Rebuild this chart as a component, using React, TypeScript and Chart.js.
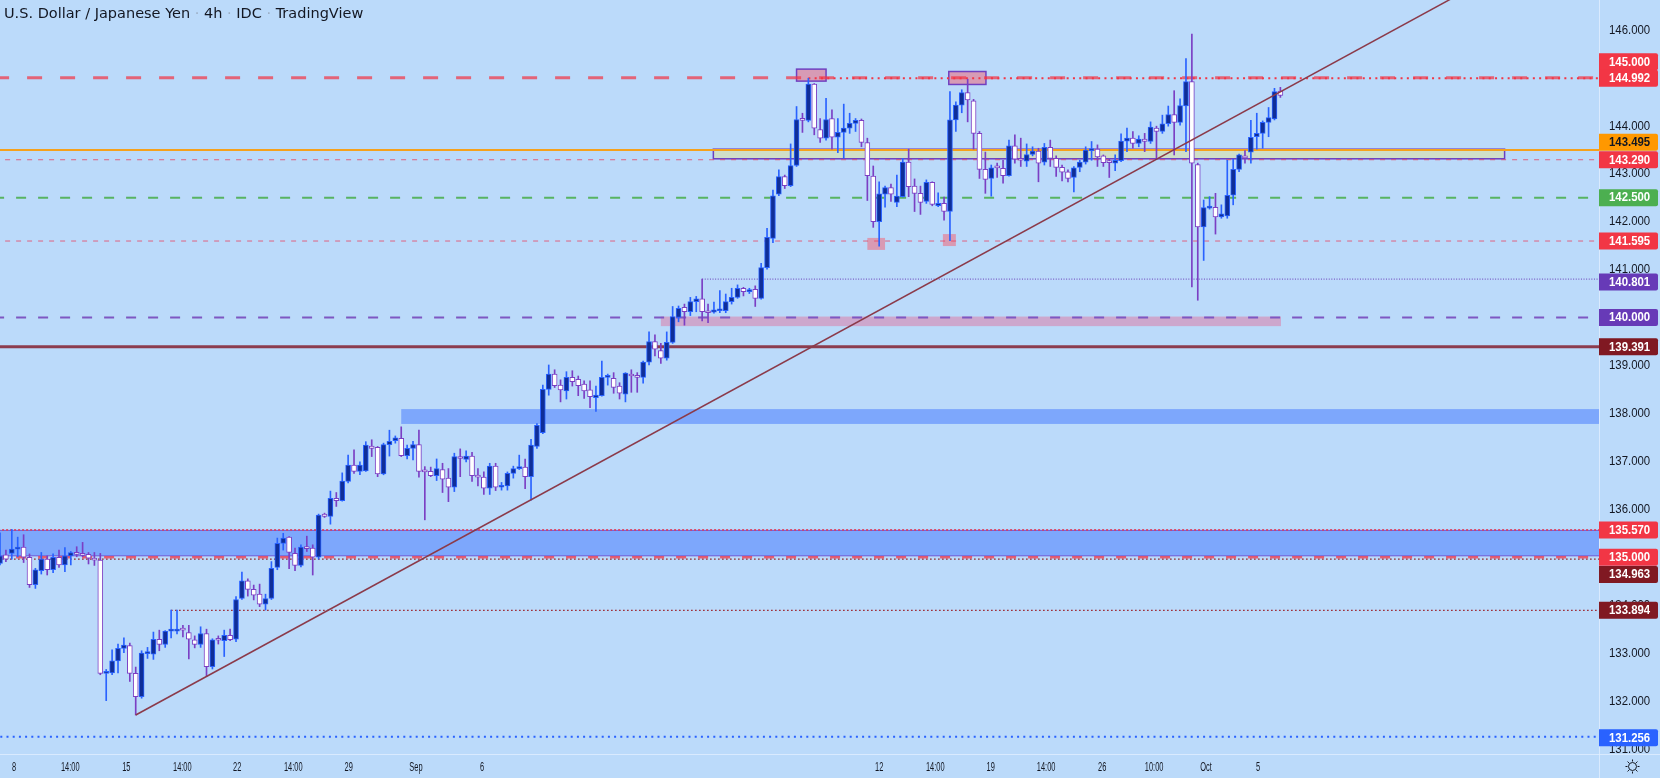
import React, { useEffect, useRef } from 'react';
import { Chart, registerables } from 'chart.js';

Chart.register(...registerables);

// ---------------- data ----------------
const opens = [
  134.87,135.05,135.08,135.17,135.21,135.00,134.43,134.72,134.96,134.74,
  135.00,134.84,135.03,135.08,135.08,135.06,134.98,134.94,132.58,132.59,
  132.84,133.10,133.16,132.58,132.09,132.99,132.98,133.29,133.18,133.46,
  133.46,133.50,133.43,133.28,133.18,133.41,132.72,133.29,133.26,133.37,
  133.29,134.14,134.51,134.33,134.23,134.02,134.14,134.79,135.29,135.42,
  135.08,134.83,135.21,135.19,135.00,135.90,135.85,136.23,136.18,136.58,
  136.92,136.79,136.80,137.32,137.29,136.74,137.35,137.43,137.48,137.12,
  137.27,137.35,136.80,136.79,136.70,136.83,136.65,136.46,137.09,137.04,
  137.11,136.69,136.67,136.44,136.90,136.46,136.49,136.75,136.85,136.88,
  136.68,137.31,137.60,138.50,138.82,138.59,138.47,138.75,138.71,138.61,
  138.49,138.33,138.37,138.75,138.73,138.57,138.40,138.82,138.78,138.75,
  139.07,139.50,139.31,139.15,139.48,140.00,140.21,140.12,140.33,140.39,
  140.13,140.11,140.14,140.14,140.33,140.42,140.61,140.54,140.59,140.40,
  141.04,141.65,142.57,142.94,142.75,143.17,144.15,144.11,144.87,143.92,
  143.74,144.15,143.76,143.86,143.95,144.05,144.11,143.65,142.95,142.00,
  142.57,142.71,142.40,142.52,143.24,142.74,142.59,142.42,142.82,142.33,
  142.38,142.21,144.12,144.43,144.69,144.52,143.84,143.09,142.90,143.15,
  143.11,142.96,143.58,143.31,143.26,143.40,143.47,143.24,143.55,143.32,
  143.13,143.04,142.92,143.13,143.24,143.48,143.51,143.37,143.26,143.22,
  143.27,143.68,143.74,143.63,143.72,143.67,143.95,143.88,144.04,144.23,
  144.07,144.41,144.92,143.19,141.89,142.28,142.30,142.10,142.12,142.55,
  143.09,143.37,143.45,143.77,143.84,144.07,144.14,144.72
];
const highs = [
  135.51,135.15,135.58,135.42,135.47,135.07,134.77,135.10,135.03,135.07,
  135.15,135.20,135.12,135.22,135.31,135.10,135.10,135.08,132.66,133.07,
  133.19,133.32,133.21,132.71,133.05,133.12,133.44,133.48,133.47,133.90,
  133.90,133.58,133.58,133.36,133.55,133.50,133.30,133.36,133.48,133.50,
  134.18,134.69,134.55,134.42,134.44,134.23,134.91,135.40,135.50,135.43,
  135.19,135.26,135.44,135.26,135.90,135.92,136.38,136.35,136.76,137.13,
  137.24,136.99,137.41,137.45,137.31,137.38,137.65,137.53,137.72,137.34,
  137.42,137.65,136.89,136.88,137.05,136.96,136.85,137.17,137.26,137.22,
  137.19,136.85,136.78,136.96,136.96,136.56,136.78,136.90,137.13,137.05,
  137.46,137.79,138.59,139.01,138.91,138.70,138.87,138.89,138.78,138.68,
  138.68,138.57,139.09,138.82,138.85,138.64,138.85,138.91,138.85,139.09,
  139.70,139.64,139.46,139.70,140.23,140.24,140.28,140.42,140.44,140.80,
  140.28,140.32,140.56,140.49,140.61,140.68,140.63,140.61,140.66,141.13,
  141.86,142.66,143.08,142.97,143.62,144.40,144.26,144.99,144.88,144.15,
  144.57,144.33,144.15,144.45,144.26,144.15,144.14,143.74,143.16,142.83,
  142.74,142.78,142.97,143.32,143.51,142.89,142.74,142.87,142.83,142.60,
  142.51,144.71,144.50,144.75,144.97,144.55,143.88,143.45,143.18,143.22,
  143.28,143.70,143.81,143.74,143.62,143.56,143.53,143.63,143.70,143.37,
  143.18,143.08,143.15,143.28,143.56,143.67,143.60,143.39,143.32,143.39,
  143.83,143.95,143.88,143.79,143.84,144.08,143.99,144.22,144.41,144.73,
  144.56,145.40,145.91,143.22,142.45,142.52,142.59,142.35,143.28,143.30,
  143.41,143.48,144.11,144.26,144.10,144.38,144.78,144.80
];
const lows = [
  134.84,134.91,134.96,135.01,134.89,134.37,134.35,134.65,134.63,134.68,
  134.79,134.70,134.84,135.01,135.01,134.86,134.83,132.55,132.01,132.55,
  132.59,133.01,132.41,131.71,132.06,132.89,132.87,133.05,133.12,133.32,
  133.40,133.34,132.88,133.11,133.12,132.51,132.67,133.19,132.93,133.26,
  133.24,134.12,134.19,134.11,133.97,133.90,134.12,134.74,135.15,134.76,
  134.72,134.80,135.12,134.63,134.96,135.83,135.69,136.06,136.17,136.55,
  136.75,136.72,136.79,137.10,136.68,136.72,137.11,137.38,137.10,137.05,
  137.03,136.67,135.78,136.68,136.60,136.35,136.16,136.37,136.68,136.99,
  136.58,136.49,136.31,136.31,136.39,136.40,136.40,136.65,136.83,136.43,
  136.19,137.27,137.58,138.38,138.54,138.24,138.30,138.57,138.37,138.31,
  138.12,138.04,138.36,138.59,138.42,138.30,138.24,138.44,138.44,138.63,
  139.01,139.20,139.04,139.11,139.46,139.91,139.84,140.04,140.12,139.93,
  139.89,140.09,140.10,140.10,140.28,140.40,140.45,140.50,140.23,140.38,
  141.01,141.56,142.54,142.69,142.73,143.15,143.86,144.08,143.81,143.65,
  143.70,143.51,143.44,143.32,143.84,143.88,143.56,142.44,141.88,141.49,
  142.30,142.42,142.31,142.51,142.52,142.21,142.15,142.38,142.33,142.31,
  142.03,141.60,143.88,144.27,144.08,143.51,142.90,142.59,142.53,142.92,
  142.80,142.95,143.22,143.15,143.15,143.37,142.83,143.18,143.15,142.94,
  142.85,142.83,142.62,143.04,143.20,143.28,143.15,143.15,142.92,143.06,
  143.25,143.46,143.53,143.56,143.46,143.63,143.32,143.84,143.99,143.39,
  144.01,143.46,140.64,140.36,141.19,142.26,141.74,142.07,142.07,142.35,
  143.04,143.22,143.22,143.51,143.53,143.77,144.12,144.59
];
const closes = [
  135.03,134.96,135.17,135.21,135.00,134.43,134.74,134.96,134.74,135.00,
  134.84,135.03,135.10,135.06,135.04,134.98,134.94,132.58,132.60,132.84,
  133.10,133.17,132.58,132.09,133.00,133.01,133.29,133.18,133.46,133.48,
  133.48,133.48,133.29,133.18,133.41,132.72,133.28,133.27,133.37,133.28,
  134.12,134.51,134.33,134.21,134.02,134.14,134.77,135.29,135.40,135.10,
  134.83,135.21,135.18,135.00,135.88,135.85,136.23,136.18,136.59,136.92,
  136.79,136.92,137.34,137.27,136.74,137.35,137.42,137.49,137.12,137.27,
  137.35,136.79,136.78,136.70,136.85,136.63,136.46,137.10,137.06,137.11,
  136.70,136.67,136.44,136.90,136.46,136.49,136.75,136.85,136.88,136.68,
  137.34,137.75,138.50,138.82,138.58,138.49,138.75,138.66,138.58,138.47,
  138.35,138.38,138.75,138.78,138.54,138.42,138.84,138.78,138.75,139.07,
  139.50,139.34,139.15,139.48,140.02,140.19,140.12,140.33,140.39,140.12,
  140.10,140.16,140.18,140.33,140.42,140.61,140.54,140.57,140.40,141.04,
  141.67,142.54,142.94,142.75,143.17,144.13,144.11,144.87,143.95,143.74,
  144.13,143.76,143.86,143.95,144.05,144.11,143.65,142.96,142.00,142.58,
  142.71,142.57,142.53,143.24,142.73,142.59,142.40,142.82,142.36,142.38,
  142.21,144.12,144.43,144.69,144.54,143.84,143.09,142.88,143.12,143.12,
  142.96,143.58,143.30,143.28,143.40,143.47,143.22,143.55,143.32,143.13,
  143.03,142.90,143.12,143.24,143.49,143.51,143.35,143.23,143.23,143.28,
  143.68,143.74,143.63,143.72,143.67,143.97,143.88,144.04,144.23,144.07,
  144.42,144.92,143.22,141.89,142.29,142.30,142.10,142.16,142.55,143.09,
  143.39,143.33,143.76,143.84,144.07,144.17,144.71,144.63
];

const priceMin = 130.897;
const priceMax = 146.6215;
const indexMin = 0;
const indexMax = 271;

const yTickValues = [131, 132, 133, 134, 135, 136, 137, 138, 139, 140, 141, 142, 143, 144, 145, 146];
const xTickValues = [2.4, 11.9, 21.4, 30.9, 40.2, 49.7, 59.1, 70.5, 81.7, 149.0, 158.5, 167.9, 177.3, 186.8, 195.6, 204.4, 213.2];
const xTickLabels = ['8', '14:00', '15', '14:00', '22', '14:00', '29', 'Sep', '6', '12', '14:00', '19', '14:00', '26', '10:00', 'Oct', '5'];

// horizontal price levels (price, first candle index)
const levelPrices = [145.0, 144.992, 143.495, 143.29, 142.5, 141.595, 140.801, 140.0, 139.391, 135.57, 135.0, 134.963, 133.894, 131.256];
const levelStarts = [-1, 137, -1, -1, -1, -1, 119, -1, -1, -1, -1, -1, 29, -1];

// rectangles: candle index range and price range
const zoneStarts = [-1, 68, 112, 120.9, 135.0, 160.8, 147.0, 159.8];
const zoneEnds = [272, 272, 217.1, 255.0, 140.0, 167.1, 150.0, 162.0];
const zoneTops = [135.56, 138.09, 140.02, 143.51, 145.18, 145.13, 141.66, 141.74];
const zoneBottoms = [135.03, 137.78, 139.82, 143.31, 144.93, 144.86, 141.41, 141.49];

// trend line (candle index, price)
const trendIndex = [23, 246];
const trendPrices = [131.71, 146.65];

const titleParts = ['U.S. Dollar / Japanese Yen', '4h', 'IDC', 'TradingView'];

// ---------------- styles ----------------
const BG = '#bbdafa';
const UP_FILL = '#0f2e98';
const UP_LINE = '#2962ff';
const DOWN_FILL = '#ffffff';
const DOWN_LINE = '#7b3fc4';
const TEXT = '#131722';
const SANS = '"Liberation Sans", Arial, sans-serif';

const levelStyles = [
  { color: 'rgba(242,54,69,0.72)', width: 3, dash: [15, 18] },
  { color: '#f23645', width: 2, dash: [2, 4.3] },
  { color: '#f5a11c', width: 2, dash: [] },
  { color: 'rgba(235,60,90,0.75)', width: 1, dash: [5, 6] },
  { color: 'rgba(76,175,80,0.9)', width: 2, dash: [10, 12] },
  { color: 'rgba(235,60,90,0.75)', width: 1, dash: [5, 6] },
  { color: '#673ab7', width: 1, dash: [1, 1.6] },
  { color: '#7e57c2', width: 2, dash: [10, 12] },
  { color: '#8c3c4e', width: 3, dash: [] },
  { color: '#e53950', width: 1.5, dash: [2, 2] },
  { color: 'rgba(242,54,69,0.75)', width: 2.5, dash: [10, 12] },
  { color: '#8b1a1a', width: 1.2, dash: [1.5, 2.5] },
  { color: '#9b1c24', width: 1.2, dash: [1.5, 2.5] },
  { color: '#2962ff', width: 2, dash: [2, 4.2] },
];

const labelStyles = [
  { bg: '#f23645', fg: '#ffffff', dy: -16 },
  { bg: '#f23645', fg: '#ffffff', dy: 0 },
  { bg: '#ff9800', fg: '#131722', dy: -7.6 },
  { bg: '#f23645', fg: '#ffffff', dy: 0 },
  { bg: '#4caf50', fg: '#ffffff', dy: 0 },
  { bg: '#f23645', fg: '#ffffff', dy: 0 },
  { bg: '#673ab7', fg: '#ffffff', dy: 3 },
  { bg: '#673ab7', fg: '#ffffff', dy: 0 },
  { bg: '#801922', fg: '#ffffff', dy: 0 },
  { bg: '#f23645', fg: '#ffffff', dy: 0 },
  { bg: '#f23645', fg: '#ffffff', dy: 0 },
  { bg: '#801922', fg: '#ffffff', dy: 15.5 },
  { bg: '#801922', fg: '#ffffff', dy: 0 },
  { bg: '#2962ff', fg: '#ffffff', dy: 1 },
];

const zoneStyles = [
  { fill: 'rgba(41,98,255,0.42)', stroke: 'rgba(110,80,210,0.9)', lw: 1 },
  { fill: 'rgba(41,98,255,0.42)', stroke: null, lw: 0 },
  { fill: '#cda7cd', stroke: null, lw: 0 },
  { fill: '#cfdfc9', stroke: '#6a3fc0', lw: 1.5 },
  { fill: '#d79bb5', stroke: '#7040c0', lw: 1.5 },
  { fill: '#d79bb5', stroke: '#7040c0', lw: 1.5 },
  { fill: '#d99ab3', stroke: null, lw: 0 },
  { fill: '#d99ab3', stroke: null, lw: 0 },
];

function scaledText(ctx: CanvasRenderingContext2D, text: string, x: number, y: number, sx: number) {
  ctx.save();
  ctx.translate(x, y);
  ctx.scale(sx, 1);
  ctx.fillText(text, 0, 0);
  ctx.restore();
}

const overlayPlugin = {
  id: 'tvOverlay',
  beforeDatasetsDraw(chart: any) {
    const { ctx, chartArea: a, scales } = chart;
    const xs = scales.x;
    const ys = scales.y;
    ctx.save();
    ctx.beginPath();
    ctx.rect(a.left, a.top, a.right - a.left, a.bottom - a.top);
    ctx.clip();
    for (let k = 0; k < zoneTops.length; k++) {
      const x1 = xs.getPixelForValue(zoneStarts[k]);
      const x2 = xs.getPixelForValue(zoneEnds[k]);
      const y1 = ys.getPixelForValue(zoneTops[k]);
      const y2 = ys.getPixelForValue(zoneBottoms[k]);
      const st = zoneStyles[k];
      ctx.fillStyle = st.fill;
      ctx.fillRect(x1, y1, x2 - x1, y2 - y1);
      if (st.stroke) {
        ctx.strokeStyle = st.stroke;
        ctx.lineWidth = st.lw;
        ctx.strokeRect(x1, y1, x2 - x1, y2 - y1);
      }
    }
    ctx.restore();
  },
  afterDraw(chart: any) {
    const { ctx, chartArea: a, scales, width, height } = chart;
    const xs = scales.x;
    const ys = scales.y;
    ctx.save();
    // separators
    ctx.strokeStyle = 'rgba(225,238,255,0.8)';
    ctx.lineWidth = 1;
    ctx.beginPath();
    ctx.moveTo(a.right + 0.5, 0);
    ctx.lineTo(a.right + 0.5, height);
    ctx.moveTo(0, a.bottom + 0.5);
    ctx.lineTo(width, a.bottom + 0.5);
    ctx.stroke();

    // y tick labels
    ctx.fillStyle = TEXT;
    ctx.font = `12px ${SANS}`;
    ctx.textAlign = 'left';
    ctx.textBaseline = 'middle';
    yTickValues.forEach((v) => {
      const py = ys.getPixelForValue(v);
      scaledText(ctx, v.toFixed(3), a.right + 10, py + 0.5, 0.95);
    });

    // x tick labels
    ctx.textAlign = 'center';
    xTickValues.forEach((v, k) => {
      const px = xs.getPixelForValue(v);
      scaledText(ctx, xTickLabels[k], px, 768, 0.62);
    });

    // price labels on the axis
    ctx.textAlign = 'left';
    ctx.font = `bold 12px ${SANS}`;
    levelPrices.forEach((p, k) => {
      const st = labelStyles[k];
      const cy = ys.getPixelForValue(p) + st.dy;
      ctx.fillStyle = st.bg;
      ctx.beginPath();
      const x0 = a.right, w = 59, h = 17, y0 = cy - h / 2, r = 2;
      ctx.moveTo(x0, y0);
      ctx.lineTo(x0 + w - r, y0);
      ctx.quadraticCurveTo(x0 + w, y0, x0 + w, y0 + r);
      ctx.lineTo(x0 + w, y0 + h - r);
      ctx.quadraticCurveTo(x0 + w, y0 + h, x0 + w - r, y0 + h);
      ctx.lineTo(x0, y0 + h);
      ctx.closePath();
      ctx.fill();
      ctx.fillStyle = st.fg;
      scaledText(ctx, p.toFixed(3), a.right + 10, cy + 0.5, 0.95);
    });

    // title
    ctx.font = '14.5px "DejaVu Sans", Verdana, sans-serif';
    ctx.textBaseline = 'alphabetic';
    ctx.textAlign = 'left';
    let tx = 4;
    titleParts.forEach((part, k) => {
      if (k > 0) {
        ctx.fillStyle = 'rgba(120,123,134,0.45)';
        const sep = ' \u00b7 ';
        ctx.fillText(sep, tx, 17.5);
        tx += ctx.measureText(sep).width;
      }
      ctx.fillStyle = TEXT;
      ctx.fillText(part, tx, 17.5);
      tx += ctx.measureText(part).width;
    });

    // settings icon
    const cx = 1632.5, cy = 766.5;
    ctx.strokeStyle = TEXT;
    ctx.lineWidth = 1;
    ctx.beginPath();
    ctx.arc(cx, cy, 4, 0, Math.PI * 2);
    ctx.stroke();
    ctx.beginPath();
    for (let k = 0; k < 8; k++) {
      const ang = (k * Math.PI) / 4;
      ctx.moveTo(cx + Math.cos(ang) * 5, cy + Math.sin(ang) * 5);
      ctx.lineTo(cx + Math.cos(ang) * 7, cy + Math.sin(ang) * 7);
    }
    ctx.stroke();
    ctx.restore();
  },
};

export default function App() {
  const ref = useRef<HTMLCanvasElement>(null);

  useEffect(() => {
    document.body.style.margin = '0';
    document.body.style.background = BG;
    const canvas = ref.current;
    if (!canvas) return;

    const isUp = opens.map((o, i) => closes[i] >= o);
    const bodyData = opens.map((o, i) => ({ x: i, y: [Math.min(o, closes[i]), Math.max(o, closes[i])] }));
    const wickData = highs.map((h, i) => ({ x: i, y: [lows[i], h] }));

    const levelDatasets = levelPrices.map((p, k) => ({
      type: 'line' as const,
      data: [{ x: levelStarts[k], y: p }, { x: indexMax + 1, y: p }],
      borderColor: levelStyles[k].color,
      borderWidth: levelStyles[k].width,
      borderDash: levelStyles[k].dash,
      borderCapStyle: 'butt' as const,
      pointRadius: 0,
      fill: false,
      tension: 0,
      order: 10,
    }));

    const chart = new Chart(canvas, {
      type: 'bar',
      data: {
        datasets: [
          {
            type: 'line' as const,
            data: [{ x: trendIndex[0], y: trendPrices[0] }, { x: trendIndex[1], y: trendPrices[1] }],
            borderColor: '#8b3a4a',
            borderWidth: 1.5,
            pointRadius: 0,
            fill: false,
            tension: 0,
            order: 1,
          },
          {
            type: 'bar' as const,
            data: bodyData as any,
            backgroundColor: isUp.map((u) => (u ? UP_FILL : DOWN_FILL)),
            borderColor: isUp.map((u) => (u ? UP_LINE : DOWN_LINE)),
            borderWidth: 1,
            borderSkipped: false,
            minBarLength: 2,
            grouped: false,
            barPercentage: 1,
            categoryPercentage: 1,
            maxBarThickness: 5,
            order: 2,
          },
          {
            type: 'bar' as const,
            data: wickData as any,
            backgroundColor: isUp.map((u) => (u ? UP_LINE : DOWN_LINE)),
            borderWidth: 0,
            minBarLength: 1,
            grouped: false,
            barPercentage: 1,
            categoryPercentage: 1,
            maxBarThickness: 1,
            order: 3,
          },
          ...levelDatasets,
        ] as any,
      },
      options: {
        animation: false,
        responsive: false,
        events: [],
        layout: { padding: 0 },
        plugins: { legend: { display: false }, tooltip: { enabled: false }, title: { display: false } },
        scales: {
          x: {
            type: 'linear',
            min: indexMin,
            max: indexMax,
            offset: false,
            grid: { display: false },
            border: { display: false },
            ticks: { display: false },
            afterBuildTicks: (s: any) => {
              s.ticks = xTickValues.map((v) => ({ value: v }));
            },
            afterFit: (s: any) => {
              s.height = 24;
            },
          },
          y: {
            type: 'linear',
            position: 'right',
            min: priceMin,
            max: priceMax,
            grid: { display: false },
            border: { display: false },
            ticks: { display: false },
            afterBuildTicks: (s: any) => {
              s.ticks = yTickValues.map((v) => ({ value: v }));
            },
            afterFit: (s: any) => {
              s.width = 61;
            },
          },
        },
      } as any,
      plugins: [overlayPlugin as any],
    });

    return () => chart.destroy();
  }, []);

  return (
    <div style={{ position: 'fixed', left: 0, top: 0, width: 1660, height: 778, background: BG }}>
      <canvas ref={ref} width={1660} height={778} style={{ display: 'block' }} />
    </div>
  );
}
